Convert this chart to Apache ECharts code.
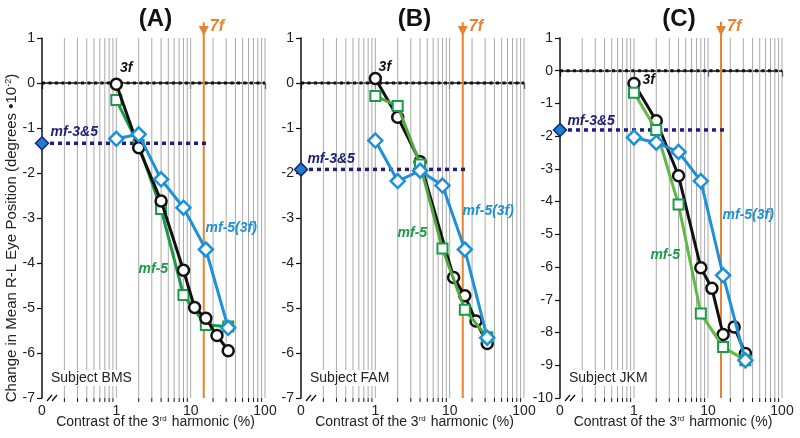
<!DOCTYPE html>
<html><head><meta charset="utf-8">
<script src="https://cdn.jsdelivr.net/npm/echarts@6/dist/echarts.min.js"></script>
<style>html,body{margin:0;padding:0;background:#fff}#c{width:800px;height:438px}</style>
</head><body><div id="c"></div>
<script>
// ---- data ----
const panelTitles = ['(A)', '(B)', '(C)'];
const subjects = ['Subject BMS', 'Subject FAM', 'Subject JKM'];
const yMin = [-7, -7, -10];
const yMax = [1, 1, 1];
const xTickLabels = ['0', '1', '10', '100'];
const gridX = [0.2,0.3,0.4,0.5,0.6,0.7,0.8,0.9,1,2,3,4,5,6,7,8,9,10,20,30,40,50,60,70,80,90,100];

const x3f_A = [1, 2, 4, 8, 11.3, 16, 22.6, 32];
const y3f_A = [-0.03, -1.44, -2.62, -4.16, -4.99, -5.23, -5.61, -5.95];
const x3f_B = [1, 2, 4, 11.3, 16, 22.6, 32];
const y3f_B = [0.1, -0.76, -1.75, -4.32, -4.73, -5.29, -5.79];
const x3f_C = [1, 2, 4, 8, 11.3, 16, 22.6, 32];
const y3f_C = [-0.39, -1.53, -3.21, -6.02, -6.65, -8.06, -7.83, -8.64];

const xMf = [1, 2, 4, 8, 16, 32];
const yMf5_A = [-0.38, -1.38, -2.8, -4.71, -5.38, -5.41];
const yMf5_B = [-0.29, -0.51, -1.81, -3.68, -5.04, -5.65];
const yMf5_C = [-0.67, -1.81, -4.09, -7.42, -8.44, -8.85];

const yMf53f_A = [-1.24, -1.14, -2.14, -2.77, -3.70, -5.44];
const yMf53f_B = [-1.28, -2.18, -1.95, -2.28, -3.70, -5.66];
const yMf53f_C = [-2.04, -2.20, -2.48, -3.37, -6.25, -8.85];

const yMf35 = [-1.34, -1.92, -1.81];
const xMf35End = [16.5, 17.5, 18.5];
const x7f = 15;
const y7fTop = [1.35, 1.35, 1.5];

// label anchor positions (data coords)
const lab3f = [[1.1, 0.33], [1.09, 0.36], [1.28, -0.28]];
const labMf35 = [[0.128, -1.09], [0.12, -1.69], [0.124, -1.54]];
const labMf53f = [[15.6, -3.22], [14.7, -2.84], [15.5, -4.41]];
const labMf5 = [[1.96, -4.13], [1.96, -3.33], [1.64, -5.64]];

// ---- layout / style ----
const gLeft = [42, 301, 560];
const gWidth = [223, 223, 222];
const gTop = 38, gH = 360;
const BLACK = '#111111', GREEN = '#1b9a48', BLUE = '#1e90d8', NAVY = '#1f1f7a', ORANGE = '#e8822e';
const greenLine = ['#1b9a48', '#52a83c', '#62b846'];
const FONT = '"Liberation Sans", Arial, sans-serif';

const series3f = [[x3f_A, y3f_A], [x3f_B, y3f_B], [x3f_C, y3f_C]];
const seriesMf5 = [yMf5_A, yMf5_B, yMf5_C];
const seriesMf53f = [yMf53f_A, yMf53f_B, yMf53f_C];

const zip = (xs, ys) => xs.map((x, i) => [x, ys[i]]);

const grids = [], xAxes = [], yAxes = [], series = [], graphics = [];

for (let i = 0; i < 3; i++) {
  grids.push({left: gLeft[i], top: gTop, width: gWidth[i], height: gH, containLabel: false});
  xAxes.push({
    gridIndex: i, type: 'log', logBase: 10, min: 0.1, max: 100,
    axisLine: {show: true, lineStyle: {color: BLACK, width: 1.5}},
    axisTick: {show: true, length: 6, lineStyle: {color: BLACK, width: 1.2}},
    axisLabel: {fontSize: 14, color: '#222', fontFamily: FONT, margin: 6,
      formatter: v => { const k = Math.round(Math.log10(v)) + 1; return xTickLabels[k]; }},
    splitLine: {show: false}
  });
  yAxes.push({
    gridIndex: i, type: 'value', min: yMin[i], max: yMax[i], interval: 1,
    axisLine: {show: true, lineStyle: {color: BLACK, width: 1.5}},
    axisTick: {show: true, length: 5, lineStyle: {color: BLACK, width: 1.2}},
    axisLabel: {fontSize: 14, color: '#222', fontFamily: FONT, margin: 7},
    splitLine: {show: false}
  });

  // vertical log gridlines + minor ticks
  series.push({
    type: 'custom', xAxisIndex: i, yAxisIndex: i, z: 1, silent: true,
    data: gridX.map(x => [x, yMin[i], yMax[i]]),
    encode: {x: 0, y: 1},
    renderItem: (params, api) => {
      const x = api.value(0);
      const pTop = api.coord([x, api.value(2)]);
      const pBot = api.coord([x, api.value(1)]);
      const children = [{type: 'line', shape: {x1: pTop[0], y1: pTop[1], x2: pBot[0], y2: pBot[1]},
        style: {stroke: '#aaaaaa', lineWidth: 1}}];
      const major = Math.abs(Math.log10(x) - Math.round(Math.log10(x))) < 1e-6;
      if (!major) children.push({type: 'line', shape: {x1: pBot[0], y1: pBot[1], x2: pBot[0], y2: pBot[1] + 4},
        style: {stroke: BLACK, lineWidth: 1}});
      return {type: 'group', children};
    }
  });

  // zero dotted line
  series.push({type: 'line', xAxisIndex: i, yAxisIndex: i, z: 3, silent: true, symbol: 'none',
    data: [[0.1, 0], [100, 0]], lineStyle: {color: BLACK, width: 3, type: [3, 3.5], opacity: 1}});

  // orange 7f line
  series.push({type: 'line', xAxisIndex: i, yAxisIndex: i, z: 3, silent: true, symbol: 'none', clip: false,
    data: [[x7f, y7fTop[i]], [x7f, yMin[i]]], lineStyle: {color: ORANGE, width: 2}});
  series.push({type: 'scatter', xAxisIndex: i, yAxisIndex: i, z: 4, silent: true, clip: false,
    data: [[x7f, yMax[i]]], symbol: 'triangle', symbolRotate: 180, symbolSize: [10, 10], symbolOffset: [0, -7],
    itemStyle: {color: ORANGE, opacity: 1},
    label: {show: true, position: 'right', distance: 1, offset: [0, -4], formatter: '7f',
      fontSize: 16, fontWeight: 'bold', fontStyle: 'italic', color: ORANGE, fontFamily: FONT}});

  // mf-3&5 dotted line with diamond at axis
  series.push({type: 'line', xAxisIndex: i, yAxisIndex: i, z: 5, silent: true, clip: false,
    data: [{value: [0.1, yMf35[i]], symbol: 'diamond', symbolSize: 13},
           {value: [xMf35End[i], yMf35[i]], symbol: 'none'}],
    itemStyle: {color: '#1a7fd0', borderColor: NAVY, borderWidth: 1.5},
    lineStyle: {color: NAVY, width: 3.5, type: [4, 4]}});

  const black = {type: 'line', xAxisIndex: i, yAxisIndex: i, z: i === 0 ? 7 : 6, clip: false,
    data: zip(series3f[i][0], series3f[i][1]), symbol: 'circle', symbolSize: 11, showAllSymbol: true,
    lineStyle: {color: BLACK, width: 3}, itemStyle: {color: '#fff', borderColor: BLACK, borderWidth: 2.5}};
  const green = {type: 'line', xAxisIndex: i, yAxisIndex: i, z: i === 0 ? 6 : 7, clip: false,
    data: zip(xMf, seriesMf5[i]), symbol: 'rect', symbolSize: 10, showAllSymbol: true,
    lineStyle: {color: greenLine[i], width: 3}, itemStyle: {color: '#fff', borderColor: GREEN, borderWidth: 2}};
  const blue = {type: 'line', xAxisIndex: i, yAxisIndex: i, z: 8, clip: false,
    data: zip(xMf, seriesMf53f[i]), symbol: 'diamond', symbolSize: 14, showAllSymbol: true,
    lineStyle: {color: BLUE, width: 3}, itemStyle: {color: '#fff', borderColor: BLUE, borderWidth: 2.5}};
  series.push(black, green, blue);

  // text annotations
  const ann = (pos, text, color) => ({value: pos, name: text, label: {color}});
  series.push({type: 'scatter', xAxisIndex: i, yAxisIndex: i, z: 10, silent: true, clip: false,
    symbol: 'circle', symbolSize: 1, itemStyle: {color: 'rgba(0,0,0,0)', opacity: 1},
    label: {show: true, position: 'right', distance: 0, formatter: '{b}', fontSize: 14, opacity: 1,
      fontWeight: 'bold', fontStyle: 'italic', fontFamily: FONT},
    data: [ann(lab3f[i], '3f', BLACK), ann(labMf35[i], 'mf-3&5', NAVY),
           ann(labMf53f[i], 'mf-5(3f)', BLUE), ann(labMf5[i], 'mf-5', GREEN)]});

  // titles
  const cx = gLeft[i] + gWidth[i] * 0.5 + 2;
  graphics.push({type: 'text', x: cx + (i === 2 ? 6 : 0), y: 19, z: 100,
    style: {text: panelTitles[i], font: 'bold 24px ' + FONT, fill: '#111', align: 'center', verticalAlign: 'middle'}});
  // subject label
  graphics.push({type: 'text', x: gLeft[i] + 7, y: 378, z: 100,
    style: {text: subjects[i], font: '14px ' + FONT, fill: '#222', align: 'left', verticalAlign: 'middle',
      backgroundColor: '#fff', padding: [1, 2]}});
  // x-axis name
  graphics.push({type: 'text', x: cx, y: 422, z: 100,
    style: {text: 'Contrast of the 3{s|rd} harmonic (%)', font: '14px ' + FONT, fill: '#222',
      align: 'center', verticalAlign: 'middle',
      rich: {s: {fontSize: 8, fontFamily: FONT, fill: '#222', padding: [0, 1, 7, 0]}}}});
  // axis break marks
  const bx = gLeft[i] + 5, by = gTop + gH;
  graphics.push({type: 'rect', z: 100, shape: {x: bx, y: by - 2, width: 11, height: 4}, style: {fill: '#fff'}});
  graphics.push({type: 'line', z: 101, shape: {x1: bx, y1: by + 3, x2: bx + 5, y2: by - 3}, style: {stroke: BLACK, lineWidth: 1.3}});
  graphics.push({type: 'line', z: 101, shape: {x1: bx + 5, y1: by + 3, x2: bx + 10, y2: by - 3}, style: {stroke: BLACK, lineWidth: 1.3}});
}

// y-axis name
graphics.push({type: 'text', x: 12, y: 238, rotation: Math.PI / 2, z: 100,
  style: {text: 'Change in Mean R-L Eye Position (degrees \u202210{s|-2})', font: '15px ' + FONT, fill: '#222',
    align: 'center', verticalAlign: 'middle',
    rich: {s: {fontSize: 9, fontFamily: FONT, fill: '#222', padding: [0, 0, 7, 0]}}}});

const chart = echarts.init(document.getElementById('c'), null, {renderer: 'canvas'});
chart.setOption({
  animation: false,
  backgroundColor: '#fff',
  textStyle: {fontFamily: FONT},
  grid: grids, xAxis: xAxes, yAxis: yAxes, series, graphic: graphics
});
</script>
</body></html>
